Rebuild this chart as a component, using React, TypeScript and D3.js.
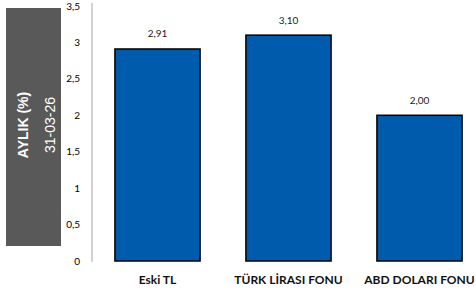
import React from "react";
import * as d3 from "d3";

const categories = ["Eski TL", "TÜRK LİRASI FONU", "ABD DOLARI FONU"];
const values = [2.91, 3.1, 2.0];
const yTicks = [0, 0.5, 1, 1.5, 2, 2.5, 3, 3.5];
const boxTitle = "AYLIK (%)";
const boxDate = "31-03-26";

const W = 476;
const H = 298;
const fmt = (v: number) => d3.format(".2f")(v).replace(".", ",");
const tickFmt = (v: number) => String(v).replace(".", ",");

export default function App() {
  const x = d3
    .scaleBand<string>()
    .domain(categories)
    .range([92, 485])
    .paddingInner(0.35)
    .paddingOuter(0.175);
  const y = d3.scaleLinear().domain([0, 3.5]).range([261, 6]);
  const font = "Lato, Carlito, Calibri, 'Open Sans', sans-serif";

  return (
    <svg
      width={W}
      height={H}
      style={{ position: "absolute", left: 0, top: 0, background: "#fff" }}
    >
      <rect x={6} y={8} width={55} height={238} fill="#595959" />
      <text
        transform="translate(28,125) rotate(-90)"
        textAnchor="middle"
        fill="#fff"
        fontFamily="'Liberation Sans', Arial, sans-serif"
        fontWeight="bold"
        fontSize={14}
      >
        {boxTitle}
      </text>
      <text
        transform="translate(55,125) rotate(-90)"
        textAnchor="middle"
        fill="#fff"
        fontFamily="'Liberation Sans', Arial, sans-serif"
        fontSize={14}
      >
        {boxDate}
      </text>

      <line x1={92} x2={92} y1={y(3.5) - 3} y2={y(0) + 1} stroke="#a6a6a6" strokeWidth={1} />
      {yTicks.map((t) => (
        <text
          key={t}
          x={80}
          y={y(t)}
          dy="0.35em"
          textAnchor="end"
          fontFamily={font}
          fontSize={10}
          fill="#000"
        >
          {tickFmt(t)}
        </text>
      ))}

      {categories.map((c, i) => (
        <g key={c}>
          <rect
            x={x(c)!}
            y={y(values[i])}
            width={x.bandwidth()}
            height={y(0) - y(values[i])}
            fill="#005bac"
            stroke="#000"
            strokeWidth={1.5}
          />
          <text
            x={x(c)! + x.bandwidth() / 2}
            y={y(values[i]) - 15}
            dy="0.35em"
            textAnchor="middle"
            fontFamily={font}
            fontSize={10}
            fill="#222"
          >
            {fmt(values[i])}
          </text>
          <text
            x={x(c)! + x.bandwidth() / 2}
            y={280}
            dy="0.35em"
            textAnchor="middle"
            fontFamily={font}
            fontWeight="bold"
            fontSize={12}
            fill="#111"
          >
            {c}
          </text>
        </g>
      ))}
    </svg>
  );
}
